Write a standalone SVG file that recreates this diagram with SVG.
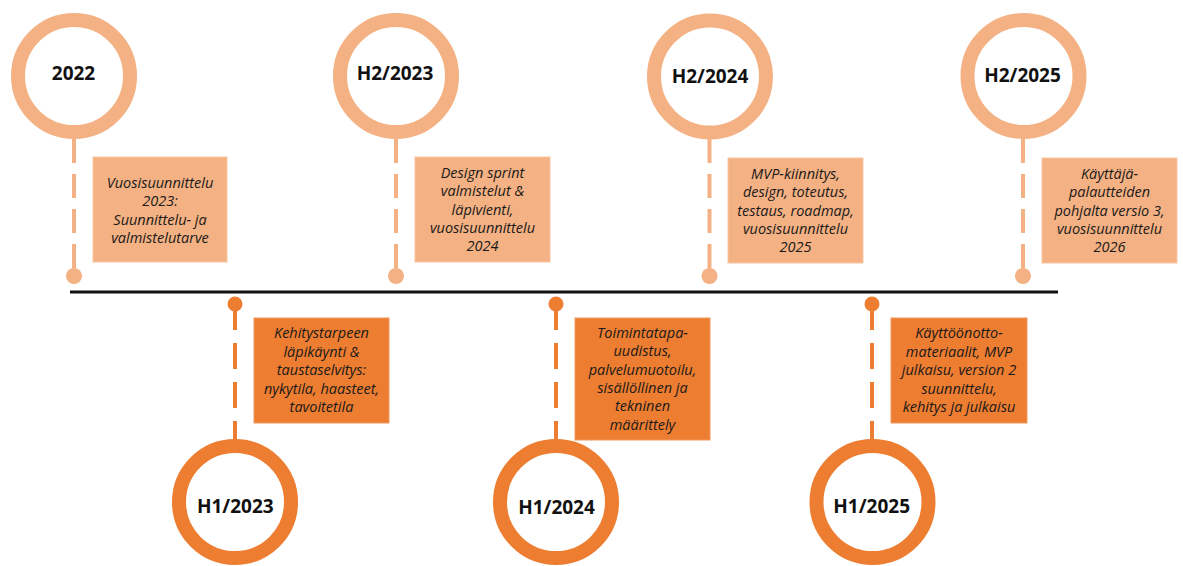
<svg xmlns="http://www.w3.org/2000/svg" width="1183" height="566" viewBox="0 0 1183 566">
<style>
.ringL{fill:#fff;stroke:#F4B183;stroke-width:14}
.ringD{fill:#fff;stroke:#ED7D31;stroke-width:14}
.boxL{fill:#F4B183;stroke:#F7C6A2;stroke-width:1}
.boxD{fill:#ED7D31;stroke:#F09A5E;stroke-width:1}
.dashL{stroke:#F4B183;stroke-width:4;stroke-dasharray:24 11;fill:none}
.dashD{stroke:#ED7D31;stroke-width:4;stroke-dasharray:26 13;fill:none}
.dotL{fill:#F4B183}
.dotD{fill:#ED7D31}
.yr{font-family:"Open Sans","DejaVu Sans",sans-serif;font-weight:bold;font-size:19px;fill:#111;text-anchor:middle}
.tx{font-family:"Open Sans","DejaVu Sans",sans-serif;font-style:italic;font-size:14.5px;fill:#1a1a1a;text-anchor:middle}
</style>
<rect width="1183" height="566" fill="#fff"/>
<g id="connectors">
<line x1="70" y1="292" x2="1058" y2="292" stroke="#111" stroke-width="3"/>
<line class="dashL" x1="74" y1="139" x2="74" y2="276"/>
<line class="dashL" x1="396" y1="139" x2="396" y2="276"/>
<line class="dashL" x1="709.5" y1="139" x2="709.5" y2="276"/>
<line class="dashL" x1="1023" y1="139" x2="1023" y2="276"/>
<line class="dashD" x1="235" y1="304" x2="235" y2="440"/>
<line class="dashD" x1="556" y1="304" x2="556" y2="440"/>
<line class="dashD" x1="872" y1="304" x2="872" y2="440"/>
<circle class="dotL" cx="74" cy="276" r="8"/>
<circle class="dotL" cx="396" cy="276" r="8"/>
<circle class="dotL" cx="709.5" cy="276" r="8"/>
<circle class="dotL" cx="1023" cy="276" r="8"/>
<circle class="dotD" cx="235" cy="304" r="7.5"/>
<circle class="dotD" cx="556" cy="304" r="7.5"/>
<circle class="dotD" cx="872" cy="304" r="7.5"/>
</g>
<g id="n2022">
<circle class="ringL" cx="74" cy="76" r="56"/>
<text class="yr" x="73.5" y="80">2022</text>
<rect class="boxL" x="93" y="157" width="134" height="105"/>
<text class="tx"><tspan x="160" y="188">Vuosisuunnittelu</tspan><tspan x="160" y="206.3">2023:</tspan><tspan x="160" y="224.6">Suunnittelu- ja</tspan><tspan x="160" y="242.9">valmistelutarve</tspan></text>
</g>
<g id="nH2-2023">
<circle class="ringL" cx="396" cy="76" r="56"/>
<text class="yr" x="395" y="80">H2/2023</text>
<rect class="boxL" x="415" y="157" width="135" height="105"/>
<text class="tx"><tspan x="482.5" y="178">Design sprint</tspan><tspan x="482.5" y="196.3">valmistelut &amp;</tspan><tspan x="482.5" y="214.6">läpivienti,</tspan><tspan x="482.5" y="232.9">vuosisuunnittelu</tspan><tspan x="482.5" y="251.2">2024</tspan></text>
</g>
<g id="nH2-2024">
<circle class="ringL" cx="710" cy="76.5" r="56"/>
<text class="yr" x="710" y="82.5">H2/2024</text>
<rect class="boxL" x="728" y="158" width="135" height="105"/>
<text class="tx"><tspan x="795.5" y="179">MVP-kiinnitys,</tspan><tspan x="795.5" y="197.3">design, toteutus,</tspan><tspan x="795.5" y="215.6">testaus, roadmap,</tspan><tspan x="795.5" y="233.9">vuosisuunnittelu</tspan><tspan x="795.5" y="252.2">2025</tspan></text>
</g>
<g id="nH2-2025">
<circle class="ringL" cx="1023.5" cy="76" r="56"/>
<text class="yr" x="1022.5" y="82">H2/2025</text>
<rect class="boxL" x="1042" y="158" width="135" height="105"/>
<text class="tx"><tspan x="1109.5" y="179">Käyttäjä-</tspan><tspan x="1109.5" y="197.3">palautteiden</tspan><tspan x="1109.5" y="215.6">pohjalta versio 3,</tspan><tspan x="1109.5" y="233.9">vuosisuunnittelu</tspan><tspan x="1109.5" y="252.2">2026</tspan></text>
</g>
<g id="nH1-2023">
<circle class="ringD" cx="235" cy="502" r="56"/>
<text class="yr" x="235.3" y="513">H1/2023</text>
<rect class="boxD" x="254" y="318" width="135" height="105"/>
<text class="tx"><tspan x="321.5" y="338">Kehitystarpeen</tspan><tspan x="321.5" y="356.5">läpikäynti &amp;</tspan><tspan x="321.5" y="375">taustaselvitys:</tspan><tspan x="321.5" y="393.5">nykytila, haasteet,</tspan><tspan x="321.5" y="412">tavoitetila</tspan></text>
</g>
<g id="nH1-2024">
<circle class="ringD" cx="556" cy="502" r="56"/>
<text class="yr" x="556.5" y="514">H1/2024</text>
<rect class="boxD" x="575" y="318" width="135" height="122"/>
<text class="tx"><tspan x="642.5" y="338">Toimintatapa-</tspan><tspan x="642.5" y="356.3">uudistus,</tspan><tspan x="642.5" y="374.6">palvelumuotoilu,</tspan><tspan x="642.5" y="392.9">sisällöllinen ja</tspan><tspan x="642.5" y="411.2">tekninen</tspan><tspan x="642.5" y="429.5">määrittely</tspan></text>
</g>
<g id="nH1-2025">
<circle class="ringD" cx="872.5" cy="502" r="56"/>
<text class="yr" x="871.7" y="513">H1/2025</text>
<rect class="boxD" x="891" y="318" width="136" height="105"/>
<text class="tx"><tspan x="959" y="338">Käyttöönotto-</tspan><tspan x="959" y="356.5">materiaalit, MVP</tspan><tspan x="959" y="375">julkaisu, version 2</tspan><tspan x="959" y="393.5">suunnittelu,</tspan><tspan x="959" y="412">kehitys ja julkaisu</tspan></text>
</g>
</svg>
